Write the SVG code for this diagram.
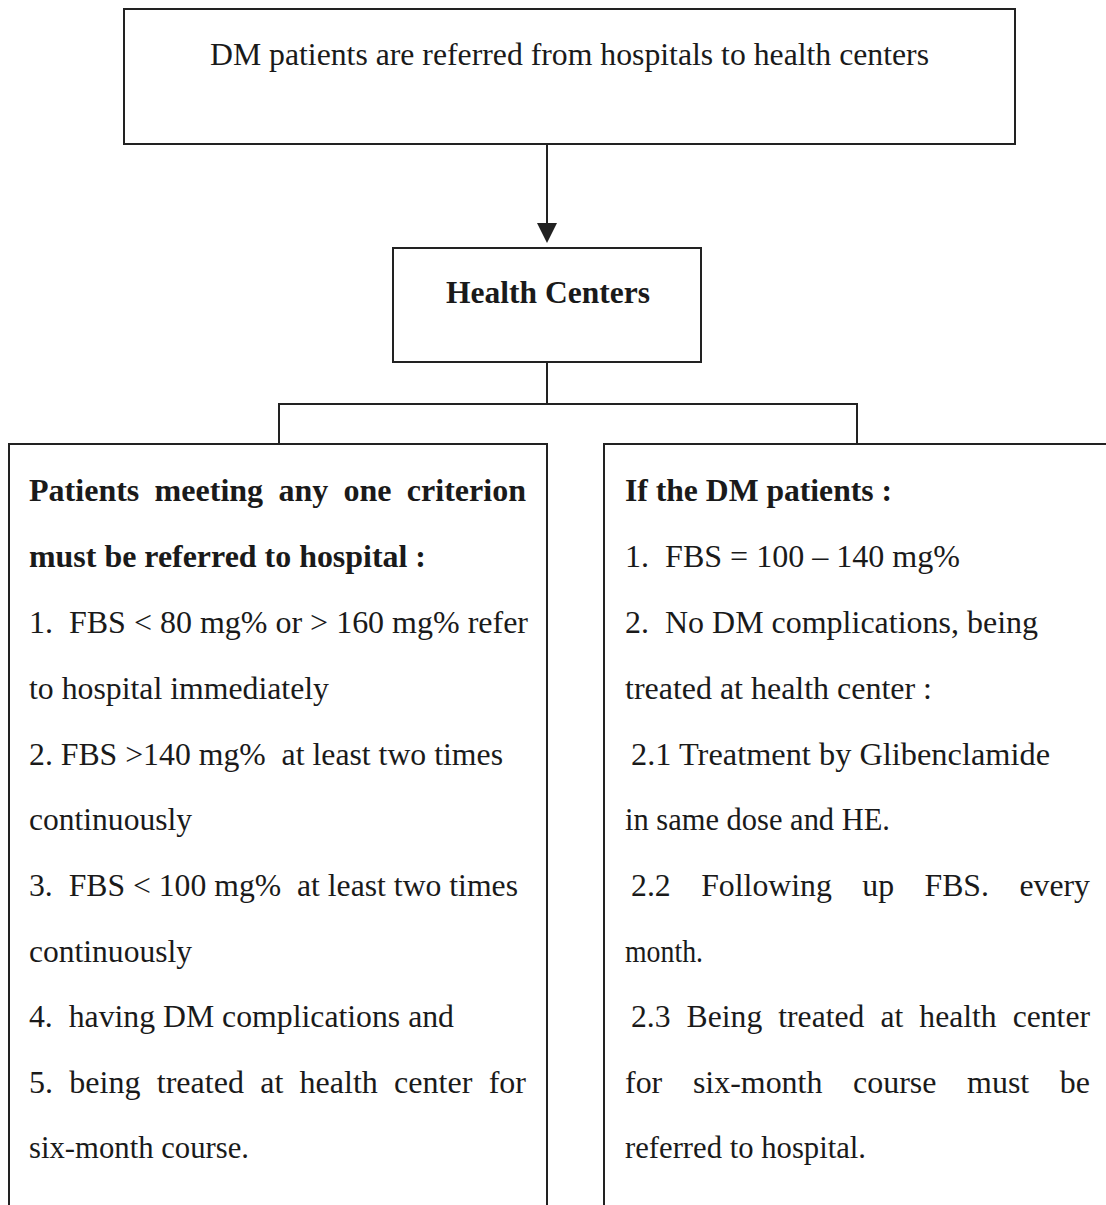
<svg xmlns="http://www.w3.org/2000/svg" width="1106" height="1205" viewBox="0 0 1106 1205">
<style>
.box{fill:#fff;stroke:#222;stroke-width:2}
.ln{fill:none;stroke:#222;stroke-width:2}
.t{font-family:"Liberation Serif","Times New Roman",serif;font-size:31px;fill:#1a1a1a}
.b{font-weight:bold}
</style>
<rect width="1106" height="1205" fill="#fff"/>
<g id="connectors">
<line class="ln" x1="547" y1="144" x2="547" y2="226"/>
<path d="M537,223 L557,223 L547,243 z" fill="#222"/>
<line class="ln" x1="547" y1="362" x2="547" y2="404"/>
<path class="ln" d="M279,444 V404 H857 V444"/>
</g>
<g id="top">
<rect class="box" x="124" y="9" width="891" height="135"/>
<text class="t" x="210" y="65" textLength="719" lengthAdjust="spacingAndGlyphs">DM patients are referred from hospitals to health centers</text>
</g>
<g id="health-centers">
<rect class="box" x="393" y="248" width="308" height="114"/>
<text class="t b" x="446" y="303" textLength="204" lengthAdjust="spacingAndGlyphs">Health Centers</text>
</g>
<g id="left">
<path class="ln" d="M9,1210 V444 H547 V1210"/>
<text class="t b" x="29" y="501" word-spacing="7" textLength="497" lengthAdjust="spacingAndGlyphs">Patients meeting any one criterion</text>
<text class="t b" x="29" y="567" textLength="397" lengthAdjust="spacingAndGlyphs">must be referred to hospital :</text>
<text class="t" x="29" y="633" xml:space="preserve" textLength="499" lengthAdjust="spacingAndGlyphs">1.  FBS &lt; 80 mg% or &gt; 160 mg% refer</text>
<text class="t" x="29" y="699" textLength="300" lengthAdjust="spacingAndGlyphs">to hospital immediately</text>
<text class="t" x="29" y="765" xml:space="preserve" textLength="474" lengthAdjust="spacingAndGlyphs">2. FBS &gt;140 mg%  at least two times</text>
<text class="t" x="29" y="830" textLength="163" lengthAdjust="spacingAndGlyphs">continuously</text>
<text class="t" x="29" y="896" xml:space="preserve" textLength="489" lengthAdjust="spacingAndGlyphs">3.  FBS &lt; 100 mg%  at least two times</text>
<text class="t" x="29" y="962" textLength="163" lengthAdjust="spacingAndGlyphs">continuously</text>
<text class="t" x="29" y="1027" xml:space="preserve" textLength="425" lengthAdjust="spacingAndGlyphs">4.  having DM complications and</text>
<text class="t" x="29" y="1093" word-spacing="8" textLength="497" lengthAdjust="spacingAndGlyphs">5. being treated at health center for</text>
<text class="t" x="29" y="1158" textLength="220" lengthAdjust="spacingAndGlyphs">six-month course.</text>
</g>
<g id="right">
<path class="ln" d="M1110,444 H604 V1210"/>
<text class="t b" x="625" y="501" textLength="267" lengthAdjust="spacingAndGlyphs">If the DM patients :</text>
<text class="t" x="625" y="567" xml:space="preserve" textLength="335" lengthAdjust="spacingAndGlyphs">1.  FBS = 100 – 140 mg%</text>
<text class="t" x="625" y="633" xml:space="preserve" textLength="413" lengthAdjust="spacingAndGlyphs">2.  No DM complications, being</text>
<text class="t" x="625" y="699" textLength="307" lengthAdjust="spacingAndGlyphs">treated at health center :</text>
<text class="t" x="631" y="765" textLength="419" lengthAdjust="spacingAndGlyphs">2.1 Treatment by Glibenclamide</text>
<text class="t" x="625" y="830" textLength="265" lengthAdjust="spacingAndGlyphs">in same dose and HE.</text>
<text class="t" x="631" y="896" word-spacing="22" textLength="459" lengthAdjust="spacingAndGlyphs">2.2 Following up FBS. every</text>
<text class="t" x="625" y="962" textLength="78" lengthAdjust="spacingAndGlyphs">month.</text>
<text class="t" x="631" y="1027" word-spacing="8" textLength="459" lengthAdjust="spacingAndGlyphs">2.3 Being treated at health center</text>
<text class="t" x="625" y="1093" word-spacing="22" textLength="465" lengthAdjust="spacingAndGlyphs">for six-month course must be</text>
<text class="t" x="625" y="1158" textLength="241" lengthAdjust="spacingAndGlyphs">referred to hospital.</text>
</g>
</svg>
